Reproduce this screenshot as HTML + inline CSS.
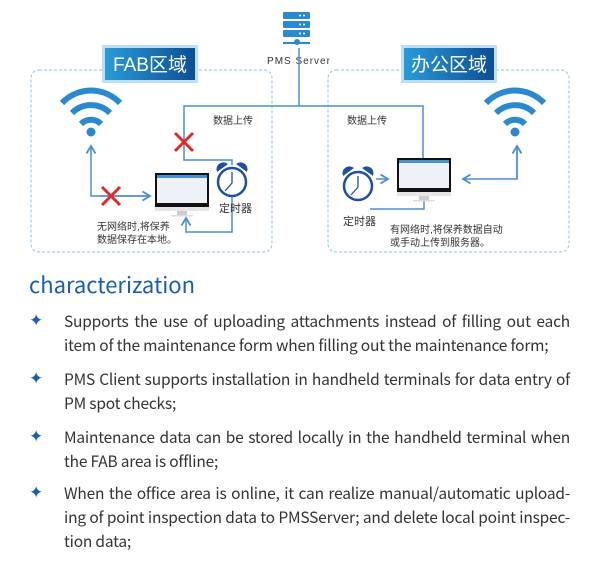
<!DOCTYPE html>
<html><head><meta charset="utf-8"><style>
body{margin:0;width:600px;height:572px;background:#fff;font-family:"Liberation Sans","Noto Sans CJK SC",sans-serif;position:relative;overflow:hidden}
svg{position:absolute;left:0;top:0}
.h{position:absolute;left:29px;top:268px;font-size:22px;color:#1a5fae;font-family:"Noto Sans CJK SC","Liberation Sans",sans-serif}
.b{position:absolute;left:64px;width:506px;font-size:15.5px;line-height:24px;color:#333;font-family:"Noto Sans CJK SC","Liberation Sans",sans-serif;letter-spacing:-0.2px}
.b span{display:block;white-space:nowrap}
.b span.j{text-align:justify;text-align-last:justify;white-space:normal}
.s{position:absolute;left:29px;color:#1a5fae;font-size:17px}
</style></head><body>
<svg width="600" height="262" viewBox="0 0 600 262" font-family="Liberation Sans, Noto Sans CJK SC, sans-serif">
<defs><linearGradient id="g" x1="0" x2="1"><stop offset="0" stop-color="#2a9ad8"/><stop offset="1" stop-color="#0d4f92"/></linearGradient>
<marker id="a" markerWidth="8" markerHeight="8" refX="6" refY="4" orient="auto"><path d="M1,1 L6,4 L1,7" fill="none" stroke="#4a8fd0" stroke-width="1.2"/></marker></defs>
<rect x="31" y="70" width="241" height="182" rx="8" fill="none" stroke="#8cc4e6" stroke-dasharray="3,2"/>
<rect x="328" y="70" width="241" height="182" rx="8" fill="none" stroke="#8cc4e6" stroke-dasharray="3,2"/>
<rect x="102" y="45" width="96" height="38" fill="#bfe0f4"/><rect x="105" y="48" width="90" height="32" fill="url(#g)"/>
<text x="150" y="71" text-anchor="middle" fill="#fff" font-size="19">FAB区域</text>
<rect x="401" y="45" width="96" height="38" fill="#bfe0f4"/><rect x="404" y="48" width="90" height="32" fill="url(#g)"/>
<text x="449" y="71" text-anchor="middle" fill="#fff" font-size="19">办公区域</text>
<g fill="#2a8ad0"><rect x="283" y="12" width="27" height="7" rx="1"/><rect x="283" y="21" width="27" height="7" rx="1"/><rect x="283" y="30" width="27" height="7" rx="1"/><rect x="283" y="42" width="27" height="2"/><circle cx="297" cy="42" r="3"/></g>
<g fill="#fff"><circle cx="300" cy="15.5" r="1"/><circle cx="304" cy="15.5" r="1"/><circle cx="300" cy="24.5" r="1"/><circle cx="304" cy="24.5" r="1"/><circle cx="300" cy="33.5" r="1"/><circle cx="304" cy="33.5" r="1"/></g>
<text x="299" y="64" text-anchor="middle" font-size="10" fill="#333" letter-spacing="1">PMS Server</text>
<g fill="none" stroke="#4a8fd0" stroke-width="1.5">
<path d="M299 48 V106 H184 V160 H232 V165"/><path d="M299 106 H423 V160"/>
<path d="M150 196 H91 V146" marker-end="url(#a)"/><path d="M100 196 H150" marker-end="url(#a)"/>
<path d="M232 195 V232 H186 V218" marker-end="url(#a)"/>
<path d="M517 146 V179 H463" marker-end="url(#a)"/><path d="M517 179 V146" marker-end="url(#a)"/>
<path d="M376 179 H388" marker-end="url(#a)"/><path d="M370 209 H424 V196"/>
</g>
<g stroke="#e02a2a" stroke-width="3"><path d="M175 133 L193 151 M193 133 L175 151"/><path d="M102 187 L120 205 M120 187 L102 205"/></g>
<g fill="none" stroke="#2a8ad0" stroke-width="6" stroke-linecap="butt">
<path d="M62 103 A40 40 0 0 1 120 103"/><path d="M72 113 A27 27 0 0 1 110 113"/><path d="M81 124 A14 14 0 0 1 101 124"/>
<path d="M486 103 A40 40 0 0 1 544 103"/><path d="M496 113 A27 27 0 0 1 534 113"/><path d="M505 124 A14 14 0 0 1 525 124"/>
</g>
<circle cx="91" cy="132" r="4.5" fill="#2a8ad0"/><circle cx="515" cy="132" r="4.5" fill="#2a8ad0"/>
<g><rect x="155" y="173" width="54" height="34" fill="#111"/><rect x="157" y="175" width="50" height="28" fill="#eef2f6"/><rect x="157" y="175" width="50" height="3" fill="#4a90d0"/><rect x="155" y="207" width="54" height="4" fill="#e5e5e5"/><rect x="177" y="211" width="10" height="4" fill="#ccc"/><rect x="171" y="215" width="22" height="1.5" fill="#ddd"/></g>
<g><rect x="397" y="158" width="54" height="34" fill="#111"/><rect x="399" y="160" width="50" height="28" fill="#eef2f6"/><rect x="399" y="160" width="50" height="3" fill="#4a90d0"/><rect x="397" y="192" width="54" height="4" fill="#e5e5e5"/><rect x="419" y="196" width="10" height="4" fill="#ccc"/><rect x="413" y="200" width="22" height="1.5" fill="#ddd"/></g>
<g fill="none" stroke="#1f4fa0" stroke-width="2.5"><circle cx="232" cy="182" r="14"/><path d="M232 172 V183 L225 191" stroke-width="1.3"/><circle cx="358" cy="186" r="14"/><path d="M358 176 V187 L351 195" stroke-width="1.3"/></g>
<g fill="#1f4fa0"><path d="M217 172 A7 7 0 0 1 228 164 Z"/><path d="M236 164 A7 7 0 0 1 247 172 Z"/><path d="M343 176 A7 7 0 0 1 354 168 Z"/><path d="M362 168 A7 7 0 0 1 373 176 Z"/></g>
<g font-size="10" fill="#333">
<text x="213" y="124">数据上传</text><text x="347" y="124">数据上传</text>
<text x="219" y="212" font-size="11">定时器</text><text x="343" y="225" font-size="11">定时器</text>
<text x="97" y="230">无网络时,将保养</text><text x="97" y="243">数据保存在本地。</text>
<text x="390" y="233">有网络时,将保养数据自动</text><text x="390" y="246">或手动上传到服务器。</text>
</g>
</svg>
<div class="h">characterization</div>
<div class="s" style="top:311px">✦</div><div class="b" style="top:309px"><span class="j">Supports the use of uploading attachments instead of filling out each</span><span>item of the maintenance form when filling out the maintenance form;</span></div>
<div class="s" style="top:369px">✦</div><div class="b" style="top:367px"><span class="j">PMS Client supports installation in handheld terminals for data entry of</span><span>PM spot checks;</span></div>
<div class="s" style="top:427px">✦</div><div class="b" style="top:425px"><span class="j">Maintenance data can be stored locally in the handheld terminal when</span><span>the FAB area is offline;</span></div>
<div class="s" style="top:483px">✦</div><div class="b" style="top:481px"><span class="j">When the office area is online, it can realize manual/automatic upload-</span><span class="j">ing of point inspection data to PMSServer; and delete local point inspec-</span><span>tion data;</span></div>
</body></html>
